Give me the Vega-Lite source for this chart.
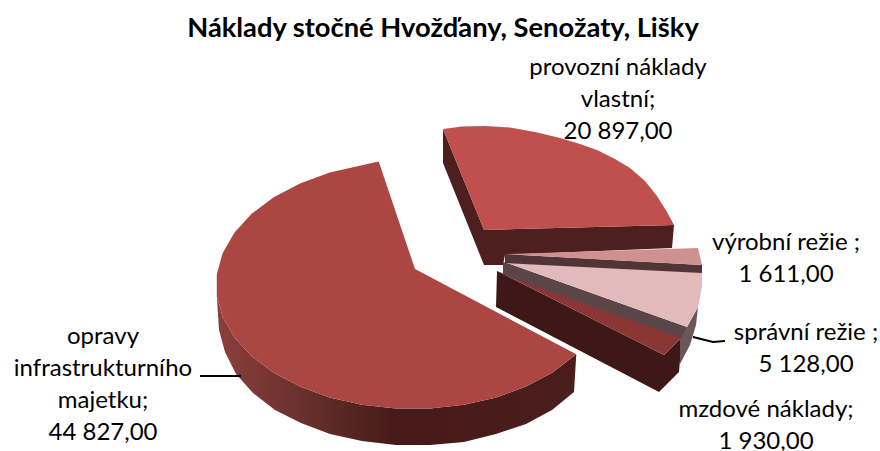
{"$schema":"https://vega.github.io/schema/vega-lite/v6.json","width":880,"height":451,"padding":0,"autosize":{"type":"none"},"background":"white","view":{"stroke":null},
"title":{"text":"Náklady stočné Hvožďany, Senožaty, Lišky","font":"Lato","fontSize":27.3,"fontWeight":"bold","color":"#000","anchor":"middle","dx":3,"offset":-42},
"datasets":{"outline":[
{"part":"opravy side","seq":1,"x":576.3,"y":354.3},{"part":"opravy side","seq":2,"x":552.3,"y":372.7},{"part":"opravy side","seq":3,"x":526.1,"y":386.6},{"part":"opravy side","seq":4,"x":496.3,"y":397.4},{"part":"opravy side","seq":5,"x":464,"y":404.8},{"part":"opravy side","seq":6,"x":430.2,"y":408.5},{"part":"opravy side","seq":7,"x":395.8,"y":408.5},{"part":"opravy side","seq":8,"x":362,"y":404.8},{"part":"opravy side","seq":9,"x":329.7,"y":397.4},{"part":"opravy side","seq":10,"x":300,"y":386.6},{"part":"opravy side","seq":11,"x":273.7,"y":372.7},{"part":"opravy side","seq":12,"x":251.6,"y":356.2},{"part":"opravy side","seq":13,"x":234.5,"y":337.4},{"part":"opravy side","seq":14,"x":222.7,"y":317.1},{"part":"opravy side","seq":15,"x":216.8,"y":295.8},{"part":"opravy side","seq":16,"x":219,"y":330},{"part":"opravy side","seq":17,"x":225,"y":352},{"part":"opravy side","seq":18,"x":236,"y":374},{"part":"opravy side","seq":19,"x":253,"y":393},{"part":"opravy side","seq":20,"x":275,"y":410},{"part":"opravy side","seq":21,"x":301,"y":423},{"part":"opravy side","seq":22,"x":330,"y":434},{"part":"opravy side","seq":23,"x":362,"y":441},{"part":"opravy side","seq":24,"x":396,"y":445},{"part":"opravy side","seq":25,"x":430,"y":445},{"part":"opravy side","seq":26,"x":464,"y":442},{"part":"opravy side","seq":27,"x":496,"y":434},{"part":"opravy side","seq":28,"x":526,"y":424},{"part":"opravy side","seq":29,"x":552,"y":410},{"part":"opravy side","seq":30,"x":574,"y":392},
{"part":"opravy top","seq":0,"x":415,"y":269},{"part":"opravy top","seq":1,"x":576.3,"y":354.3},{"part":"opravy top","seq":2,"x":552.3,"y":372.7},{"part":"opravy top","seq":3,"x":526.1,"y":386.6},{"part":"opravy top","seq":4,"x":496.3,"y":397.4},{"part":"opravy top","seq":5,"x":464,"y":404.8},{"part":"opravy top","seq":6,"x":430.2,"y":408.5},{"part":"opravy top","seq":7,"x":395.8,"y":408.5},{"part":"opravy top","seq":8,"x":362,"y":404.8},{"part":"opravy top","seq":9,"x":329.7,"y":397.4},{"part":"opravy top","seq":10,"x":300,"y":386.6},{"part":"opravy top","seq":11,"x":273.7,"y":372.7},{"part":"opravy top","seq":12,"x":251.6,"y":356.2},{"part":"opravy top","seq":13,"x":234.5,"y":337.4},{"part":"opravy top","seq":14,"x":222.7,"y":317.1},{"part":"opravy top","seq":15,"x":216.8,"y":295.8},{"part":"opravy top","seq":16,"x":216.8,"y":274.2},{"part":"opravy top","seq":17,"x":222.7,"y":252.9},{"part":"opravy top","seq":18,"x":234.5,"y":232.6},{"part":"opravy top","seq":19,"x":251.6,"y":213.8},{"part":"opravy top","seq":20,"x":273.7,"y":197.3},{"part":"opravy top","seq":21,"x":300,"y":183.4},{"part":"opravy top","seq":22,"x":329.7,"y":172.6},{"part":"opravy top","seq":23,"x":362,"y":165.2},{"part":"opravy top","seq":24,"x":378.7,"y":161.5},
{"part":"provozni side","seq":1,"x":443,"y":129},{"part":"provozni side","seq":2,"x":484,"y":230},{"part":"provozni side","seq":3,"x":674,"y":225},{"part":"provozni side","seq":4,"x":672,"y":248},{"part":"provozni side","seq":5,"x":505,"y":255},{"part":"provozni side","seq":6,"x":503,"y":265},{"part":"provozni side","seq":7,"x":484,"y":265},{"part":"provozni side","seq":8,"x":443,"y":163},
{"part":"provozni top","seq":1,"x":443,"y":129},{"part":"provozni top","seq":2,"x":462,"y":126.5},{"part":"provozni top","seq":3,"x":485,"y":126},{"part":"provozni top","seq":4,"x":510,"y":127.5},{"part":"provozni top","seq":5,"x":535,"y":132},{"part":"provozni top","seq":6,"x":560,"y":138},{"part":"provozni top","seq":7,"x":580,"y":144},{"part":"provozni top","seq":8,"x":597,"y":150},{"part":"provozni top","seq":9,"x":615,"y":159},{"part":"provozni top","seq":10,"x":630,"y":168},{"part":"provozni top","seq":11,"x":645,"y":181},{"part":"provozni top","seq":12,"x":657,"y":196},{"part":"provozni top","seq":13,"x":667,"y":212},{"part":"provozni top","seq":14,"x":674,"y":225},{"part":"provozni top","seq":15,"x":484,"y":230},
{"part":"mzdove side","seq":1,"x":497,"y":271},{"part":"mzdove side","seq":2,"x":664,"y":355},{"part":"mzdove side","seq":3,"x":682,"y":337},{"part":"mzdove side","seq":4,"x":679,"y":372},{"part":"mzdove side","seq":5,"x":659,"y":392},{"part":"mzdove side","seq":6,"x":496,"y":307},
{"part":"mzdove top","seq":1,"x":497,"y":271},{"part":"mzdove top","seq":2,"x":682,"y":337},{"part":"mzdove top","seq":3,"x":664,"y":355},
{"part":"spravni outer","seq":1,"x":687,"y":327},{"part":"spravni outer","seq":2,"x":698,"y":307},{"part":"spravni outer","seq":3,"x":696,"y":325},{"part":"spravni outer","seq":4,"x":690,"y":345},{"part":"spravni outer","seq":5,"x":680,"y":364},{"part":"spravni outer","seq":6,"x":680,"y":334},
{"part":"spravni side","seq":1,"x":503,"y":262},{"part":"spravni side","seq":2,"x":507,"y":263},{"part":"spravni side","seq":3,"x":687,"y":327},{"part":"spravni side","seq":4,"x":681,"y":338},{"part":"spravni side","seq":5,"x":503,"y":274.5},
{"part":"spravni top","seq":1,"x":507,"y":263},{"part":"spravni top","seq":2,"x":702,"y":272},{"part":"spravni top","seq":3,"x":702,"y":287},{"part":"spravni top","seq":4,"x":698,"y":307},{"part":"spravni top","seq":5,"x":687,"y":327},
{"part":"vyrobni side","seq":1,"x":505,"y":254},{"part":"vyrobni side","seq":2,"x":702,"y":265},{"part":"vyrobni side","seq":3,"x":702,"y":273},{"part":"vyrobni side","seq":4,"x":505,"y":263},
{"part":"vyrobni top","seq":1,"x":505,"y":254},{"part":"vyrobni top","seq":2,"x":698,"y":248},{"part":"vyrobni top","seq":3,"x":702,"y":265}
],
"leaders":[{"leader":"opravy","seq":1,"x":200,"y":376},{"leader":"opravy","seq":2,"x":241,"y":376},{"leader":"spravni","seq":1,"x":693,"y":337},{"leader":"spravni","seq":2,"x":713,"y":342},{"leader":"spravni","seq":3,"x":725,"y":341}],
"labels":[{"label":"provozní náklady\nvlastní;\n20 897,00","x":618,"y":68},{"label":"výrobní režie ;\n1 611,00","x":786,"y":243},{"label":"správní režie ;\n5 128,00","x":806,"y":333},{"label":"mzdové náklady;\n1 930,00","x":766,"y":410},{"label":"opravy\ninfrastrukturního\nmajetku;\n44 827,00","x":103,"y":337}]},
"encoding":{"x":{"field":"x","type":"quantitative","scale":{"domain":[0,880]},"axis":null},"y":{"field":"y","type":"quantitative","scale":{"domain":[451,0]},"axis":null}},
"layer":[
{"data":{"name":"outline"},"transform":[{"filter":"datum.part === 'opravy side'"}],"mark":{"type":"line","strokeWidth":0,"fill":{"gradient":"linear","x1":0,"y1":0,"x2":1,"y2":0,"stops":[{"offset":0,"color":"#8c3f3b"},{"offset":0.25,"color":"#66302c"},{"offset":0.5,"color":"#451a18"},{"offset":1,"color":"#4a1e1c"}]}},"encoding":{"order":{"field":"seq","type":"quantitative"}}},
{"data":{"name":"outline"},"transform":[{"filter":"datum.part !== 'opravy side'"}],"mark":{"type":"line","filled":true,"strokeWidth":0},"encoding":{"order":{"field":"seq","type":"quantitative"},"color":{"field":"part","type":"nominal","legend":null,"sort":null,"scale":{"domain":["opravy top","provozni side","provozni top","mzdove side","mzdove top","spravni outer","spravni side","spravni top","vyrobni side","vyrobni top"],"range":["#ab4642","#4d1f1f","#c0504d","#3d1816","#8a3636","#6b5758","#5a4647","#e2baba","#503436","#d09090"]}}}},
{"data":{"name":"leaders"},"mark":{"type":"line","color":"#000","strokeWidth":2},"encoding":{"detail":{"field":"leader"},"order":{"field":"seq","type":"quantitative"}}},
{"data":{"name":"labels"},"mark":{"type":"text","font":"Lato","fontSize":24,"color":"#000","align":"center","baseline":"middle","lineBreak":"\n","lineHeight":32},"encoding":{"text":{"field":"label"}}}
]}
